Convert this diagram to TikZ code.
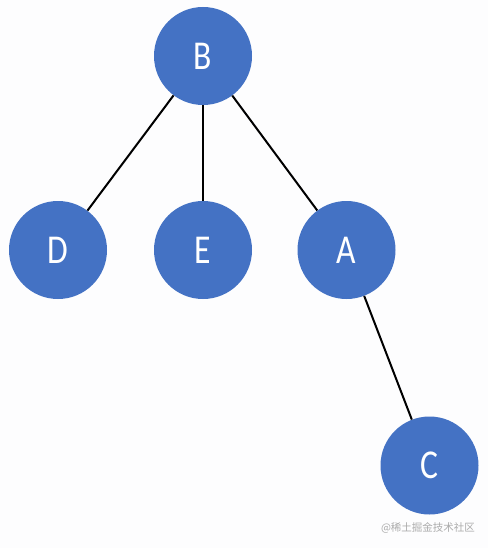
\documentclass[tikz,border=0pt]{standalone}
\usepackage{fontspec}
\newfontfamily\lblfont[FakeStretch=0.82]{Carlito}
\newfontfamily\cjk{Noto Sans CJK SC}
\definecolor{nodeblue}{HTML}{4472C4}
\definecolor{bgcol}{HTML}{FDFDFE}
\definecolor{wmgray}{HTML}{ABABAB}
\begin{document}
\begin{tikzpicture}[x=1pt,y=-1pt,
  treenode/.style={circle,fill=nodeblue,draw=none,minimum size=98pt,inner sep=0pt,
    text=white,font=\lblfont\fontsize{41}{41}\selectfont},
  edge/.style={draw=black,line width=2pt}]
\fill[bgcol] (0,0) rectangle (488,548);
\useasboundingbox (0,0) rectangle (488,548);
\node[treenode] (B) at (203,56) {B};
\node[treenode] (D) at (58,250) {D};
\node[treenode] (E) at (203,250) {E};
\node[treenode] (A) at (346.5,250) {A};
\node[treenode] (C) at (429.5,465.5) {C};
\draw[edge] (B) -- (D);
\draw[edge] (B) -- (E);
\draw[edge] (B) -- (A);
\draw[edge] (A) -- (C);
\node[text=wmgray,font=\cjk\fontsize{10.5}{10.5}\selectfont,inner sep=0pt] (wm) at (428,528) {@稀土掘金技术社区};
\end{tikzpicture}
\end{document}
